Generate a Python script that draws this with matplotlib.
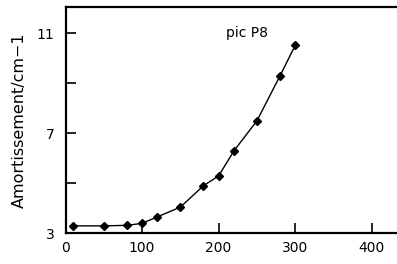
import matplotlib
matplotlib.use("Agg")
import matplotlib.pyplot as plt
from matplotlib.ticker import FixedLocator

# data
temp = [10, 50, 80, 100, 120, 150, 180, 200, 220, 250, 280, 300]
amort = [3.29, 3.29, 3.31, 3.39, 3.65, 4.04, 4.89, 5.29, 6.29, 7.49, 9.28, 10.51]
xticks = [0, 100, 200, 300, 400]
yticks = [3, 7, 11]
yminor = [5, 9]

plt.rcParams['font.family'] = ['DejaVu Sans']

fig = plt.figure(figsize=(3.97, 2.64), dpi=100)
ax = fig.add_axes([0.165, 0.117, 0.835, 0.856])

ax.plot(temp, amort, color='black', lw=1.0, marker='D', markersize=4.5)
ax.text(237, 11.0, "pic P8", fontsize=10, ha='center', va='center')

ax.set_xlim(0, 433)
ax.set_ylim(3, 12.04)
ax.set_xticks(xticks)
ax.set_yticks(yticks)
ax.yaxis.set_minor_locator(FixedLocator(yminor))
ax.tick_params(direction='in', length=7, width=1.2, labelsize=10, pad=6)
ax.tick_params(axis='y', pad=8)
ax.tick_params(which='minor', direction='in', length=7, width=1.2)
ax.tick_params(axis='x', top=False)
ax.tick_params(axis='y', right=False)
for s in ['left', 'bottom', 'top']:
    ax.spines[s].set_linewidth(1.6)
ax.spines['right'].set_visible(False)

ax.set_ylabel("Amortissement/cm\u22121", fontsize=11.5, labelpad=7)

fig.savefig("out.png", dpi=100)
